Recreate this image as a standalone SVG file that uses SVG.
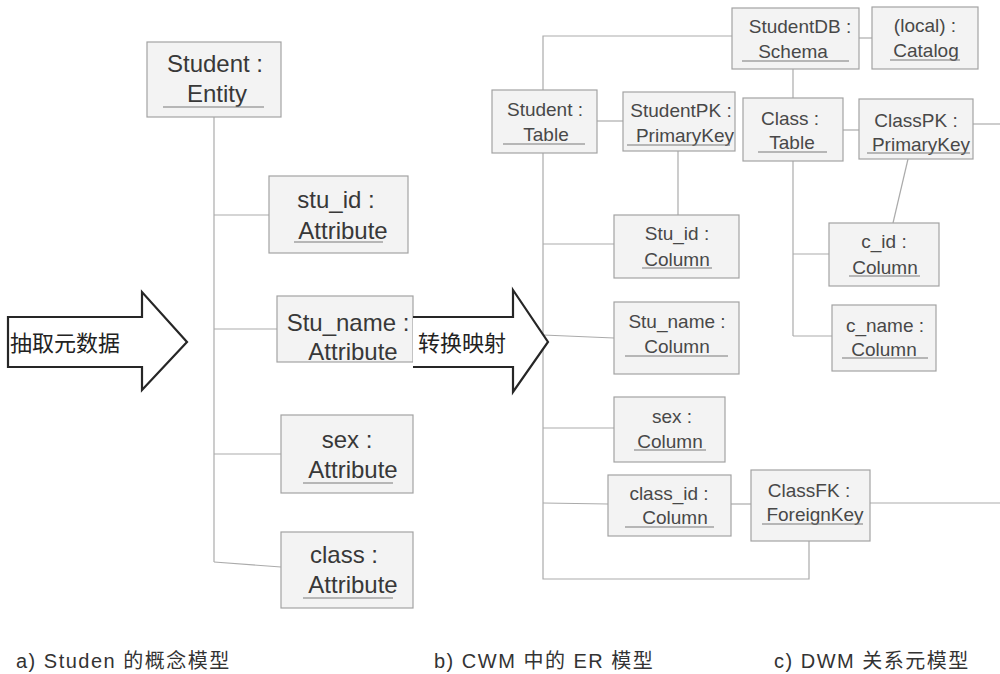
<svg xmlns="http://www.w3.org/2000/svg" width="1000" height="674" viewBox="0 0 1000 674">
<style>
text{font-family:"Liberation Sans","Noto Sans CJK SC",sans-serif}
.box{fill:#f3f3f3;stroke:#a3a3a3;stroke-width:1.2}
.L{font-size:24px;fill:#383838;text-anchor:middle}
.R{font-size:19px;fill:#484848;text-anchor:middle}
.ul{stroke:#7a7a7a;stroke-width:1.2}
.con{fill:none;stroke:#ababab;stroke-width:1.2}
.arrow{fill:#fff;stroke:#262626;stroke-width:2.2;stroke-linejoin:miter}
.ar{font-size:22px;fill:#222}
.cap{font-size:20px;fill:#333;letter-spacing:1.5px}
</style>
<rect width="1000" height="674" fill="#fff"/>
<g id="connectors">
<path class="con" d="M214,117 V562"/>
<path class="con" d="M214,215 H269"/>
<path class="con" d="M214,329 H277"/>
<path class="con" d="M214,454 H281"/>
<path class="con" d="M214,562 L281,567"/>
<path class="con" d="M732,36 H543 V579 H809 V541"/>
<path class="con" d="M859,38 H872"/>
<path class="con" d="M793,69 V336"/>
<path class="con" d="M597,121 H623"/>
<path class="con" d="M678,151 V215"/>
<path class="con" d="M543,244 H614"/>
<path class="con" d="M543,335 L614,338"/>
<path class="con" d="M543,428 H614"/>
<path class="con" d="M543,503 L608,504"/>
<path class="con" d="M731,504 H751"/>
<path class="con" d="M870,503 H1000"/>
<path class="con" d="M843,130 H859"/>
<path class="con" d="M973,124 H1000"/>
<path class="con" d="M908,159 L893,223"/>
<path class="con" d="M793,254 H829"/>
<path class="con" d="M793,336 H832"/>
</g>
<g id="student-entity"><rect class="box" x="147" y="42" width="134" height="75"/><text class="L" x="215" y="72">Student :</text><text class="L" x="217" y="102">Entity</text><line class="ul" x1="163" y1="107" x2="264" y2="107"/></g>
<g id="stu_id-attr"><rect class="box" x="269" y="176" width="139" height="77"/><text class="L" x="336" y="208">stu_id :</text><text class="L" x="343" y="239">Attribute</text><line class="ul" x1="294" y1="242" x2="383" y2="242"/></g>
<g id="stu_name-attr"><rect class="box" x="277" y="296" width="136" height="66"/><text class="L" x="348" y="331">Stu_name :</text><text class="L" x="353" y="360">Attribute</text></g>
<g id="sex-attr"><rect class="box" x="281" y="415" width="132" height="78"/><text class="L" x="347" y="448">sex :</text><text class="L" x="353" y="478">Attribute</text><line class="ul" x1="303" y1="483" x2="393" y2="483"/></g>
<g id="class-attr"><rect class="box" x="281" y="532" width="132" height="76"/><text class="L" x="344" y="563">class :</text><text class="L" x="353" y="593">Attribute</text><line class="ul" x1="303" y1="598" x2="393" y2="598"/></g>
<g id="arrow-extract"><path class="arrow" d="M8,317 H142 V292 L187,342 L142,390 V367 H8 Z"/><text class="ar" x="10" y="351">抽取元数据</text></g>
<g id="arrow-map"><path class="arrow" d="M413,317 H513 V290 L548,342 L513,392 V367 H413"/><text class="ar" x="418" y="351">转换映射</text></g>
<g id="studentdb-schema"><rect class="box" x="732" y="8" width="127" height="61"/><text class="R" x="800" y="33">StudentDB :</text><text class="R" x="793" y="58">Schema</text><line class="ul" x1="742" y1="61" x2="849" y2="61"/></g>
<g id="local-catalog"><rect class="box" x="872" y="7" width="106" height="62"/><text class="R" x="925" y="32">(local) :</text><text class="R" x="926" y="57">Catalog</text><line class="ul" x1="890" y1="60" x2="960" y2="60"/></g>
<g id="student-table"><rect class="box" x="492" y="90" width="105" height="63"/><text class="R" x="545" y="116">Student :</text><text class="R" x="546" y="141">Table</text><line class="ul" x1="503" y1="144" x2="585" y2="144"/></g>
<g id="studentpk"><rect class="box" x="623" y="92" width="112" height="59"/><text class="R" x="681" y="117">StudentPK :</text><text class="R" x="685" y="142">PrimaryKey</text><line class="ul" x1="627" y1="145" x2="730" y2="145"/></g>
<g id="class-table"><rect class="box" x="743" y="98" width="100" height="63"/><text class="R" x="790" y="125">Class :</text><text class="R" x="792" y="149">Table</text><line class="ul" x1="758" y1="152" x2="827" y2="152"/></g>
<g id="classpk"><rect class="box" x="859" y="99" width="114" height="60"/><text class="R" x="916" y="127">ClassPK :</text><text class="R" x="921" y="151">PrimaryKey</text><line class="ul" x1="867" y1="153" x2="970" y2="153"/></g>
<g id="stu_id-col"><rect class="box" x="614" y="215" width="125" height="63"/><text class="R" x="677" y="240">Stu_id :</text><text class="R" x="677" y="266">Column</text><line class="ul" x1="642" y1="268" x2="712" y2="268"/></g>
<g id="stu_name-col"><rect class="box" x="614" y="302" width="125" height="72"/><text class="R" x="677" y="328">Stu_name :</text><text class="R" x="677" y="353">Column</text><line class="ul" x1="625" y1="356" x2="728" y2="356"/></g>
<g id="c_id-col"><rect class="box" x="829" y="223" width="110" height="63"/><text class="R" x="884" y="248">c_id :</text><text class="R" x="885" y="274">Column</text><line class="ul" x1="849" y1="276" x2="920" y2="276"/></g>
<g id="c_name-col"><rect class="box" x="832" y="305" width="104" height="66"/><text class="R" x="885" y="332">c_name :</text><text class="R" x="884" y="356">Column</text><line class="ul" x1="842" y1="358" x2="928" y2="358"/></g>
<g id="sex-col"><rect class="box" x="614" y="397" width="111" height="65"/><text class="R" x="672" y="423">sex :</text><text class="R" x="670" y="448">Column</text><line class="ul" x1="634" y1="450" x2="706" y2="450"/></g>
<g id="class_id-col"><rect class="box" x="608" y="475" width="123" height="61"/><text class="R" x="669" y="500">class_id :</text><text class="R" x="675" y="524">Column</text><line class="ul" x1="625" y1="527" x2="714" y2="527"/></g>
<g id="classfk"><rect class="box" x="751" y="470" width="119" height="71"/><text class="R" x="809" y="497">ClassFK :</text><text class="R" x="815" y="521">ForeignKey</text><line class="ul" x1="762" y1="524" x2="863" y2="524"/></g>
<g id="captions">
<text class="cap" x="16" y="668">a) Studen 的概念模型</text>
<text class="cap" x="434" y="668">b) CWM 中的 ER 模型</text>
<text class="cap" x="774" y="668">c) DWM 关系元模型</text>
</g>
</svg>
